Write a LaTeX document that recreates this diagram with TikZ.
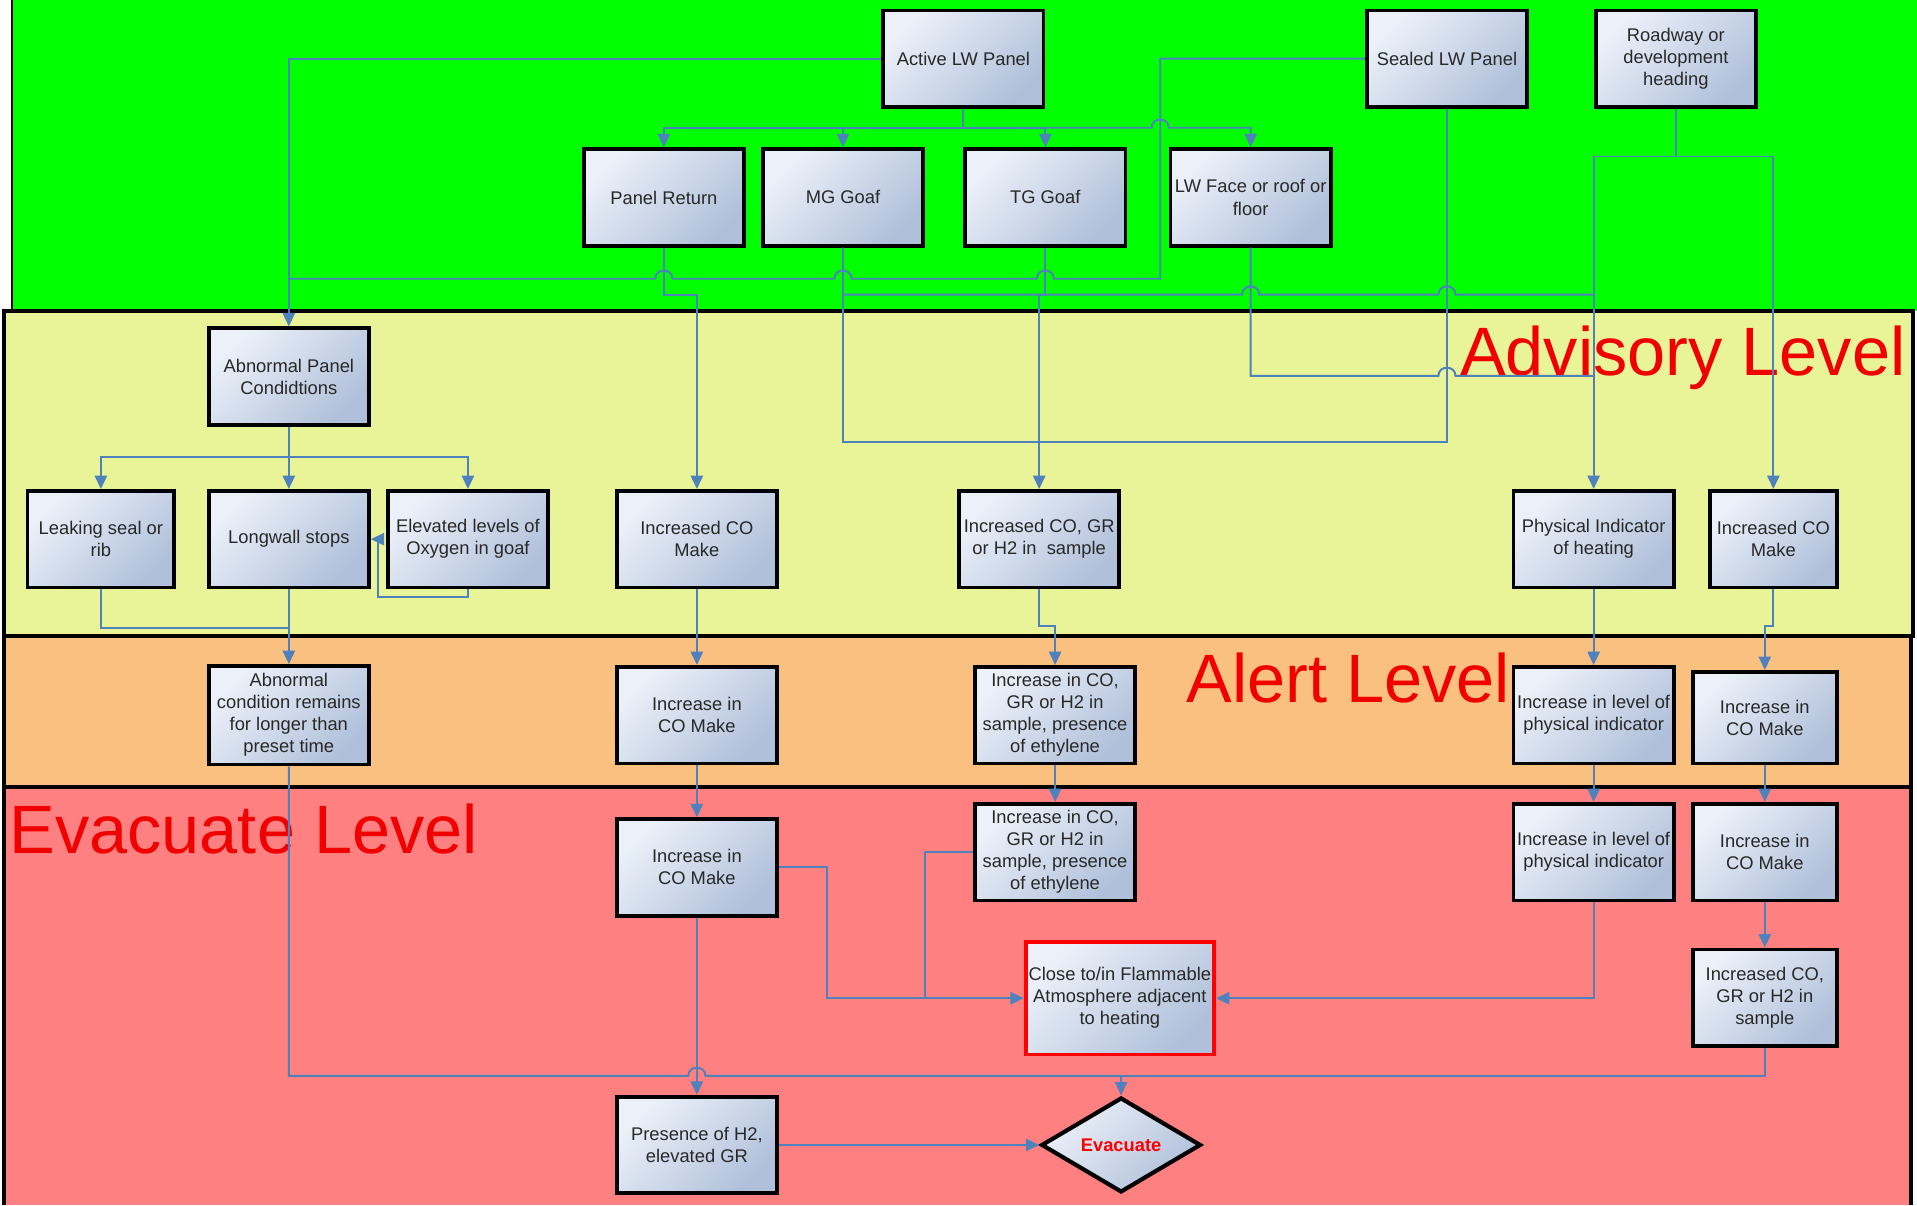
\documentclass[tikz,border=0pt]{standalone}
\usepackage{fontspec}
\setmainfont{Liberation Sans}
\usetikzlibrary{arrows.meta,shapes.geometric}
\definecolor{bgreen}{RGB}{0,255,0}
\definecolor{byellow}{RGB}{233,243,152}
\definecolor{borange}{RGB}{250,192,128}
\definecolor{bred}{RGB}{255,128,128}
\definecolor{linkblue}{RGB}{79,129,189}
\definecolor{boxlight}{RGB}{236,241,249}
\definecolor{boxdark}{RGB}{176,192,218}
\definecolor{txtgray}{RGB}{40,40,40}
\definecolor{lvlred}{RGB}{240,0,0}
\newcommand{\hopR}[2]{-- ({#1-7},{#2}) .. controls ({#1-7},{#2-9}) and ({#1+7},{#2-9}) .. ({#1+7},{#2})}
\newcommand{\hopL}[2]{-- ({#1+7},{#2}) .. controls ({#1+7},{#2-9}) and ({#1-7},{#2-9}) .. ({#1-7},{#2})}
\begin{document}
\begin{tikzpicture}[x=0.5pt,y=-0.5pt,
  box/.style={draw=black, line width=1.5pt, top color=boxlight, bottom color=boxdark, shading angle=45,
    align=center, inner xsep=0pt, inner ysep=1pt, font=\fontsize{7.5}{9}\selectfont, text=txtgray,
    minimum width=65.5pt, minimum height=39.5pt},
  link/.style={draw=linkblue, line width=0.8pt},
  arr/.style={link, -{Triangle[length=5.5pt,width=5pt]}},
  lvl/.style={text=lvlred, font=\fontsize{28}{30}\selectfont, anchor=base west, inner sep=0pt}
]
\useasboundingbox (0,0) rectangle (1568,986);
\fill[white] (0,0) rectangle (1568,986);
% bands
\fill[bgreen] (10,0) rectangle (1568,254);
\draw[line width=1pt] (10,0) -- (10,254);
\filldraw[fill=byellow, draw=black, line width=1.6pt] (3,254.5) rectangle (1564.5,520);
\filldraw[fill=borange, draw=black, line width=1.6pt] (3,520) rectangle (1563,644);
\fill[bred] (3,644) rectangle (1563,986);
\draw[line width=1.6pt] (3,986) -- (3,644) -- (1563,644) -- (1563,986);
% level labels
\node[lvl] (advlbl) at (1194,307) {Advisory Level};
\node[lvl] (alertlbl) at (970,575) {Alert Level};
\node[lvl] (evaclbl) at (7.5,698) {Evacuate Level};
% top boxes
\node[box] (alw) at (788,48) {Active LW Panel};
\node[box] (slw) at (1183.5,48) {Sealed LW Panel};
\node[box] (road) at (1370.75,48) {Roadway or\\development\\heading};
\node[box] (pret) at (543,161.5) {Panel Return};
\node[box] (mg) at (689.5,161.5) {MG Goaf};
\node[box] (tg) at (855,161.5) {TG Goaf};
\node[box] (lwf) at (1023,161.5) {LW Face or roof or\\floor};
% advisory
\node[box] (apc) at (236.25,308) {Abnormal Panel\\Condidtions};
\node[box, minimum width=60pt] (leak) at (82.5,441) {Leaking seal or\\rib};
\node[box] (lws) at (236.25,441) {Longwall stops};
\node[box] (oxy) at (382.75,441) {Elevated levels of\\Oxygen in goaf};
\node[box] (ico1) at (570,441) {Increased CO\\Make};
\node[box] (icogr) at (850,441) {Increased CO, GR\\or H2 in~ sample};
\node[box] (phys) at (1303.5,441) {Physical Indicator\\of heating};
\node[box, minimum width=52pt] (ico2) at (1450.5,441) {Increased CO\\Make};
% alert
\node[box, minimum height=40.3pt] (acr) at (236.25,585) {Abnormal\\condition remains\\for longer than\\preset time};
\node[box] (aco) at (570,585) {Increase in\\CO Make};
\node[box] (aeth) at (863,585) {Increase in CO,\\GR or H2 in\\sample, presence\\of ethylene};
\node[box] (aphys) at (1303.5,585) {Increase in level of\\physical indicator};
\node[box, minimum width=59pt, minimum height=37.5pt] (aco2) at (1443.5,587) {Increase in\\CO Make};
% evacuate
\node[box] (eco) at (570,709.5) {Increase in\\CO Make};
\node[box] (eeth) at (863,697) {Increase in CO,\\GR or H2 in\\sample, presence\\of ethylene};
\node[box] (ephys) at (1303.5,697) {Increase in level of\\physical indicator};
\node[box, minimum width=59pt] (eco2) at (1443.5,697) {Increase in\\CO Make};
\node[box, draw=red, minimum width=77pt, minimum height=46pt] (close) at (916,816.5) {Close to/in Flammable\\Atmosphere adjacent\\to heating};
\node[box, minimum width=59pt] (esample) at (1443.5,816) {Increased CO,\\GR or H2 in\\sample};
\node[box] (h2) at (570,936.5) {Presence of H2,\\elevated GR};
\node[box, diamond, line width=1.7pt, inner sep=0pt, minimum width=65.3pt, minimum height=38.8pt, text=red, font=\fontsize{7.5}{9}\selectfont\bfseries] (evac) at (917,936.5) {Evacuate};
% connectors: top
\coordinate (jd) at (788,104.5);
\draw[link] (alw.south) -- (jd);
\draw[arr] (jd) -| (pret.north);
\draw[arr] (jd) -| (mg.north);
\draw[arr] (jd) -| (tg.north);
\draw[arr] (jd) \hopR{949}{104.5} -| (lwf.north);
\draw[arr] (alw.west) -| (apc.north);
\draw[link] (slw.west) -- (949,48) -- (949,228) \hopL{855}{228} \hopL{689.5}{228} \hopL{543}{228} -- (236.25,228);
\draw[arr] (pret.south) |- (570,241) -- (ico1.north);
\draw[arr] (tg.south) |- (850,241) -- (icogr.north);
\draw[link] (mg.south) -- (689.5,241) \hopR{1023}{241} \hopR{1183.5}{241} -- (1303.5,241);
\draw[link] (slw.south) -- (1183.5,361.5) -- (689.5,361.5) -- (689.5,241);
\draw[link] (lwf.south) -- (1023,307.5) \hopR{1183.5}{307.5} -- (1303.5,307.5);
\coordinate (jr) at (1370.75,128);
\draw[link] (road.south) -- (jr);
\draw[arr] (jr) -| (phys.north);
\draw[arr] (jr) -| (ico2.north);
% advisory
\coordinate (ja) at (236.25,373.5);
\draw[arr] (apc.south) -- (lws.north);
\draw[arr] (ja) -| (leak.north);
\draw[arr] (ja) -| (oxy.north);
\draw[link] (leak.south) |- (236.25,513.5);
\draw[arr] (lws.south) -- (acr.north);
\draw[arr] (oxy.south) -- (382.75,488) -- (309,488) -- (309,441) -- (lws.east);
\draw[arr] (ico1.south) -- (aco.north);
\draw[arr] (icogr.south) -- (850,512) -| (aeth.north);
\draw[arr] (phys.south) -- (aphys.north);
\draw[arr] (ico2.south) -- (1450.5,512) -| (aco2.north);
% alert -> evacuate
\draw[arr] (aco.south) -- (eco.north);
\draw[arr] (aeth.south) -- (eeth.north);
\draw[arr] (aphys.south) -- (ephys.north);
\draw[arr] (aco2.south) -- (eco2.north);
\draw[arr] (acr.south) -- (236.25,880) \hopR{570}{880} -- (917,880) -- (evac.north);
\draw[link] (esample.south) |- (917,880);
\draw[arr] (eco.south) -- (h2.north);
\draw[arr] (eco.east) -- (676.5,709.5) |- (close.west);
\draw[link] (eeth.west) -| (756.5,816.5);
\draw[arr] (ephys.south) |- (close.east);
\draw[arr] (eco2.south) -- (esample.north);
\draw[arr] (h2.east) -- (evac.west);
\end{tikzpicture}
\end{document}
